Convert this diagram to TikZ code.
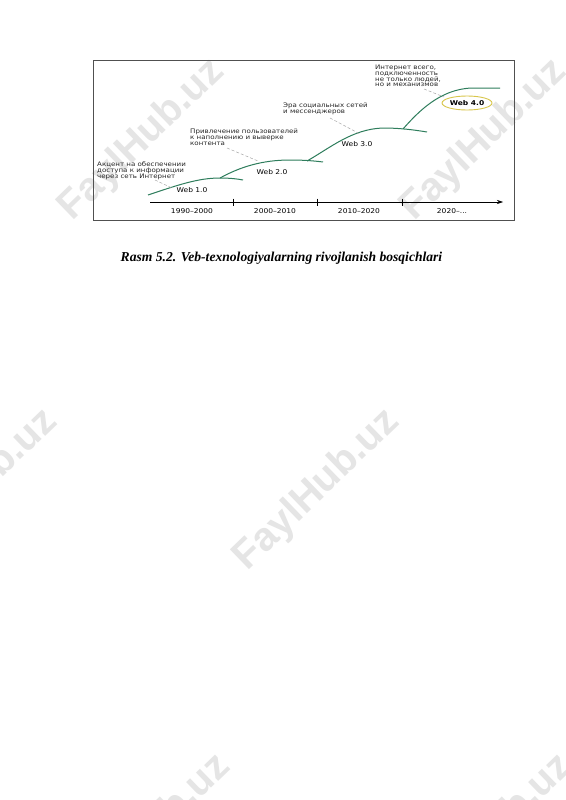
\documentclass[tikz,border=0pt]{standalone}
\usepackage{fontspec}
\setmainfont{Liberation Serif}
\newfontfamily\annfont[FakeStretch=1.14]{DejaVu Sans}
\newfontfamily\wmfont{Liberation Sans}
\usetikzlibrary{arrows.meta,shapes.geometric}
\definecolor{webgreen}{HTML}{2E7D5C}
\definecolor{ringgold}{HTML}{D8C64A}
\definecolor{framegray}{HTML}{505050}

\begin{document}
\begin{tikzpicture}[x=1pt,y=-1pt,
  ann/.style={anchor=north west, inner sep=0pt, align=left, text=black!85,
    font=\annfont\fontsize{6.2}{6}\selectfont},
  web/.style={inner sep=1pt, font=\annfont\fontsize{6.6}{7}\selectfont},
  yr/.style={inner sep=0pt, font=\annfont\fontsize{6.6}{7}\selectfont},
  curve/.style={webgreen, line width=1pt},
  lead/.style={gray!70, dash pattern=on 3pt off 2pt, line width=0.5pt},
  wmark/.style={rotate=44, text=black!10, font=\wmfont\bfseries\fontsize{40}{40}\selectfont},
  ]
\clip (0,0) rectangle (565,800);
\fill[white] (0,0) rectangle (565,800);
% watermarks
\foreach \wx/\wy in {142/140, 484/140, -25/490, 317/490, 659/490, 148/835, 490/835}
  \node[wmark] at (\wx,\wy) {FaylHub.uz};
% frame and time axis
\draw[framegray, line width=0.9pt] (93,60) rectangle (514,220);
\coordinate (a0) at (150,202);
\coordinate (a1) at (503,202);
\draw[-{Stealth[length=6pt,width=4pt]}, line width=0.6pt] (a0) -- (a1);
\foreach \tx in {233,317,402}
  \draw[line width=1pt] (\tx,198.5) -- (\tx,205.5);
\node[yr] (y1) at (192,211) {1990–2000};
\node[yr] (y2) at (275,211) {2000–2010};
\node[yr] (y3) at (359,211) {2010–2020};
\node[yr] (y4) at (452,211) {2020–...};
% growth curves
\coordinate (j1) at (220,178);
\coordinate (j2) at (307,161);
\coordinate (j3) at (403,129);
\draw[curve] (148,195) .. controls (178,185) and (198,178) .. (j1)
  .. controls (230,178) and (238,179) .. (243,180);
\draw[curve] (j1) .. controls (240,167) and (262,160) .. (290,160)
  .. controls (305,160) and (315,161) .. (323,162);
\draw[curve] (j2) .. controls (330,148) and (352,129) .. (383,128)
  .. controls (400,128) and (415,130) .. (427,132);
\draw[curve] (j3) .. controls (418,112) and (440,89) .. (472,88)
  .. controls (485,88) and (494,88) .. (500,88);
% stages
\node[web] (w1) at (192,190) {Web 1.0};
\node[web] (w2) at (272,172) {Web 2.0};
\node[web] (w3) at (357,144) {Web 3.0};
\node[web, font=\annfont\bfseries\fontsize{6.6}{7}\selectfont, ellipse, draw=ringgold,
  line width=0.9pt, inner sep=0pt, minimum width=50pt, minimum height=14pt]
  (w4) at (467,103) {Web 4.0};
% notes
\node[ann] (n1) at (97,161) {Акцент на обеспечении\\доступа к информации\\через сеть Интернет};
\node[ann] (n2) at (190,129) {Привлечение пользователей\\к наполнению и выверке\\контента};
\node[ann] (n3) at (283,103) {Эра социальных сетей\\и мессенджеров};
\node[ann, font=\annfont\fontsize{6.2}{5.7}\selectfont] (n4) at (375,65)
  {Интернет всего,\\подключенность\\не только людей,\\но и механизмов};
\coordinate (l1a) at (155,180); \coordinate (l1b) at (172,188);
\coordinate (l2a) at (227,148); \coordinate (l2b) at (258,161);
\coordinate (l3a) at (330,118); \coordinate (l3b) at (360,134);
\coordinate (l4a) at (424,89);  \coordinate (l4b) at (444,97);
\draw[lead] (l1a) -- (l1b);
\draw[lead] (l2a) -- (l2b);
\draw[lead] (l3a) -- (l3b);
\draw[lead] (l4a) -- (l4b);
% caption
\node[font=\bfseries\itshape\fontsize{13.6}{15}\selectfont] (cap) at (281.5,258)
  {Rasm 5.2. Veb-texnologiyalarning rivojlanish bosqichlari};
\end{tikzpicture}
\end{document}
